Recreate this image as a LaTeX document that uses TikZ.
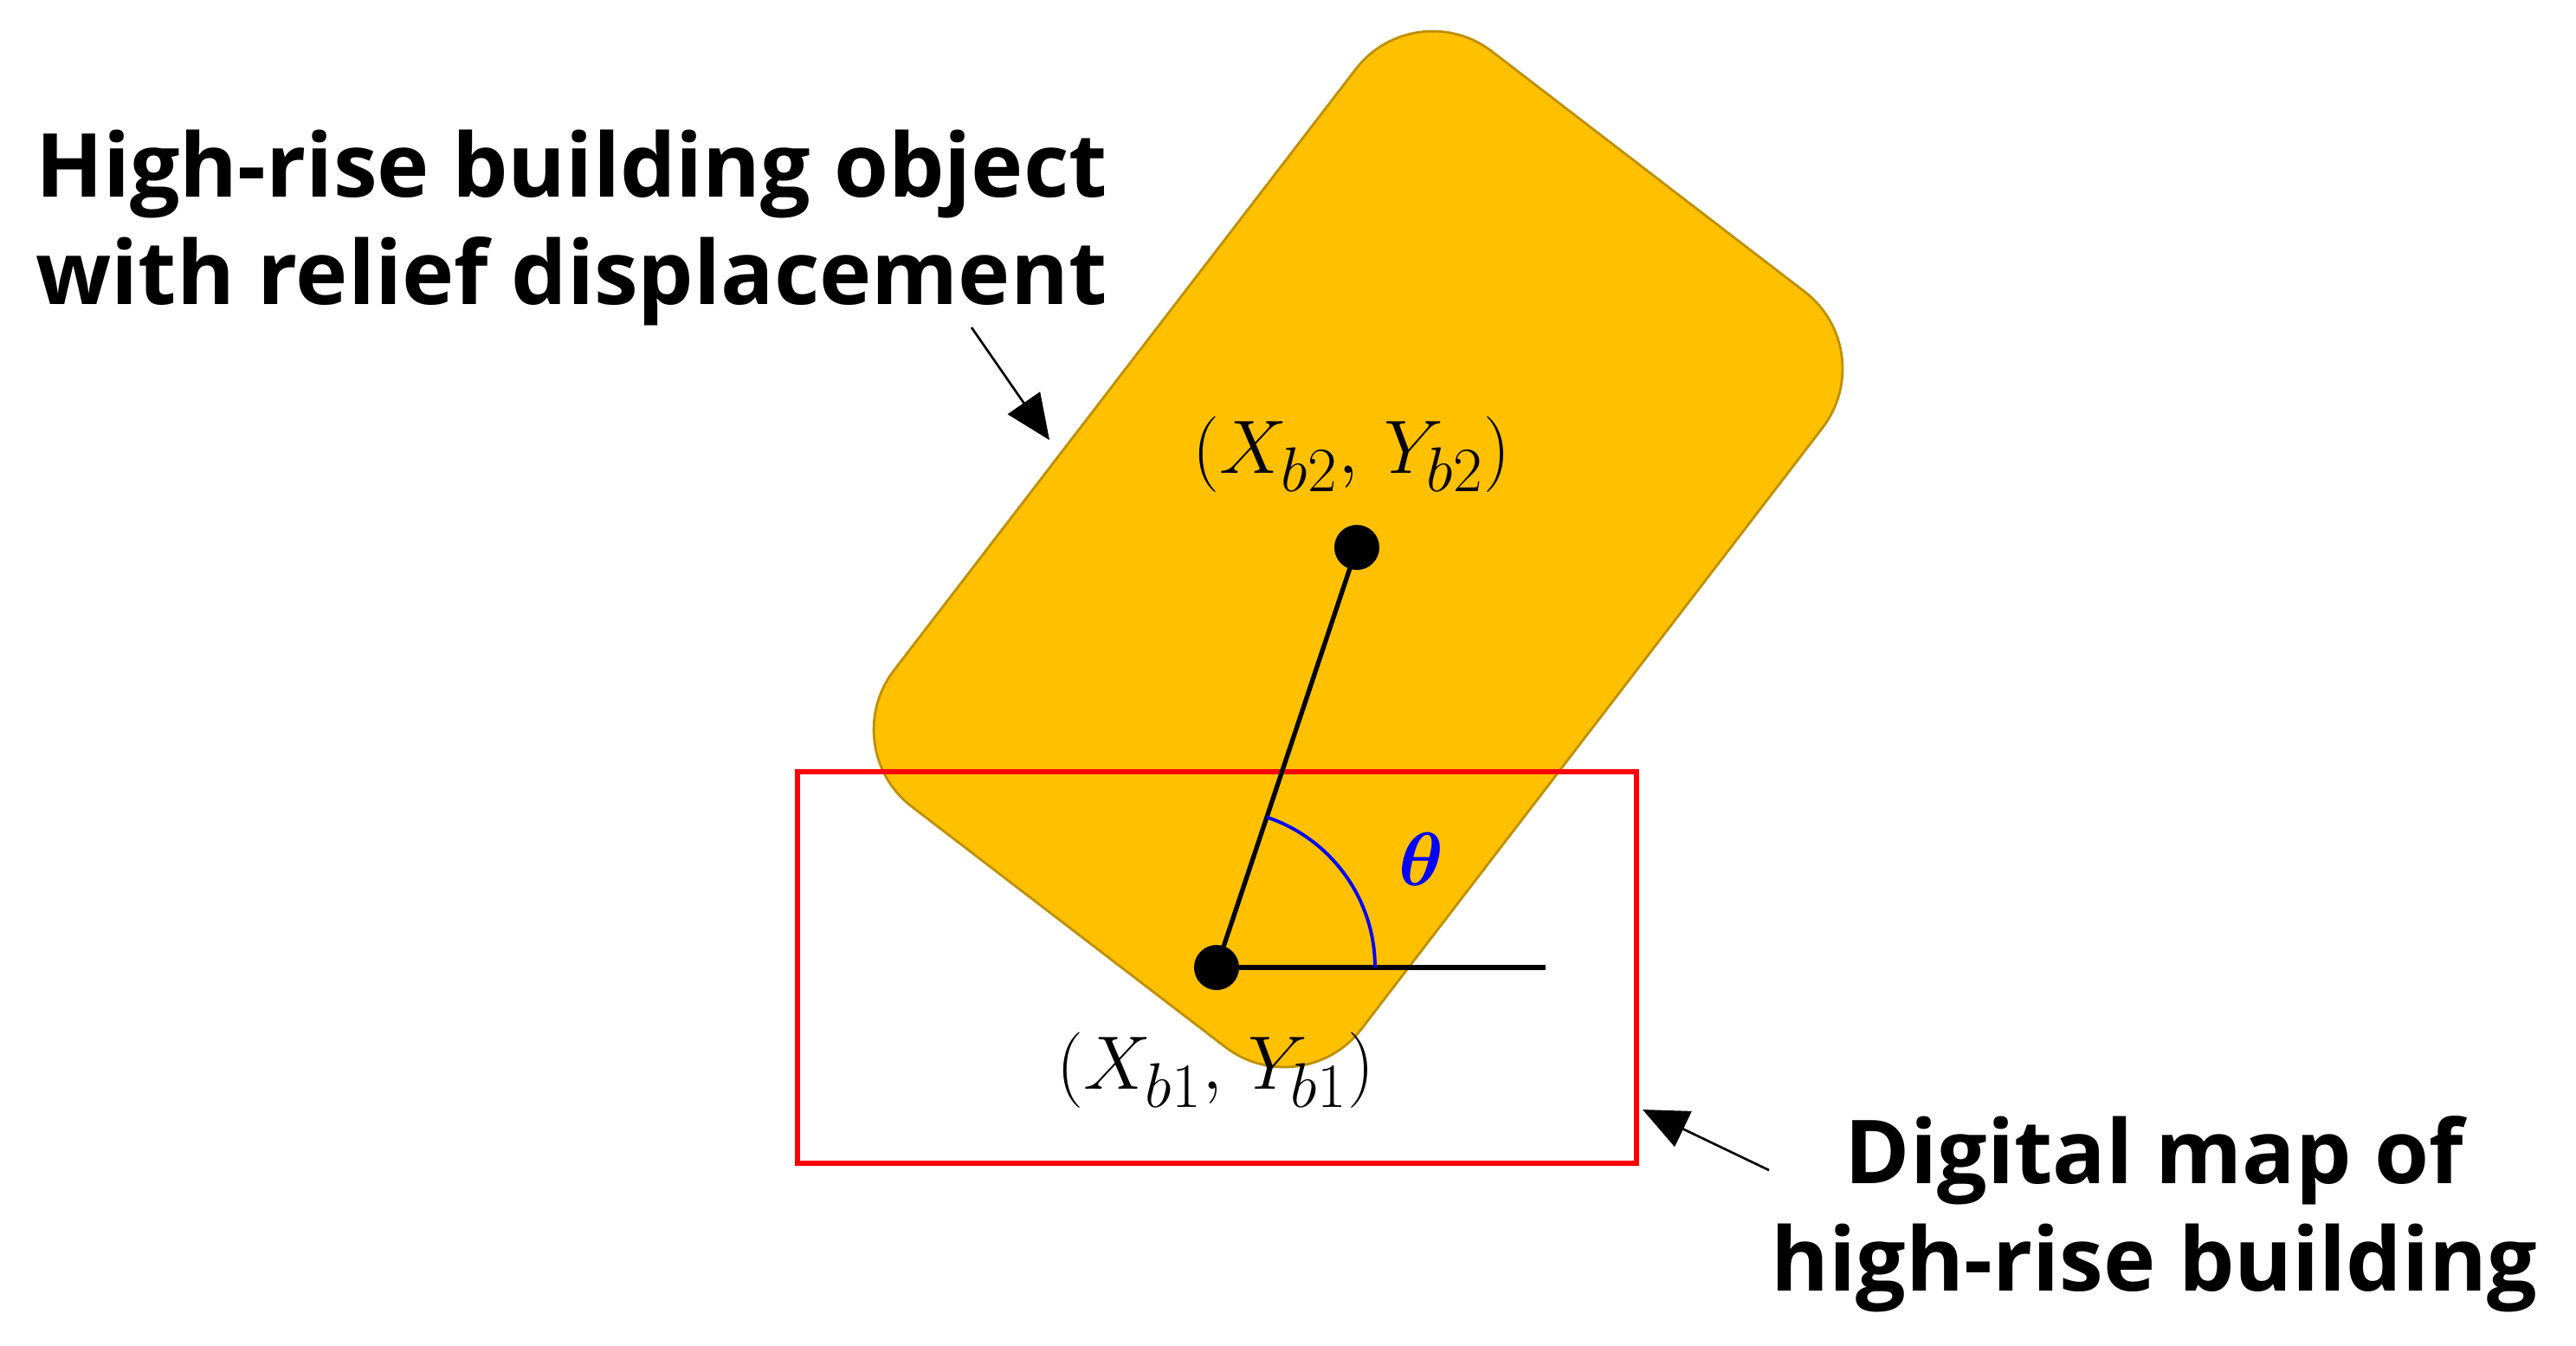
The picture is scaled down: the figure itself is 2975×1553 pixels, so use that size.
\documentclass[tikz,border=0pt]{standalone}
\usepackage{amsmath,bm}
\usepackage{fontspec}
\setmainfont{Open Sans}
\usetikzlibrary{arrows.meta,positioning}
\definecolor{bldgold}{HTML}{FFC000}
\definecolor{bldedge}{HTML}{BF9000}

\begin{document}
\begin{tikzpicture}[
        x=0.01cm, y=-0.01cm,
        building/.style={fill=bldgold, draw=bldedge, line width=0.8pt, rounded corners=1.12cm},
        mapbox/.style={draw=red, line width=1.7pt},
        seg/.style={line width=1.5pt},
        ptdot/.style={circle, fill=black, inner sep=0pt, minimum size=0.52cm},
        notetext/.style={font=\fontsize{29}{35.3}\selectfont\bfseries, align=center},
        ptlabel/.style={font=\fontsize{28}{30}\selectfont},
        pointer/.style={-{Triangle[length=0.52cm, width=0.45cm]}, line width=0.75pt},
    ]
        \useasboundingbox (0,0) rectangle (2975,1553);

        % Building with relief displacement
        \draw[building] (1299,427) -- (1634,-9) -- (2173,405) -- (1504,1277) -- (964,863) -- cycle;

        % Digital map footprint
        \draw[mapbox] (921,891) rectangle (1890,1343);

        % Points and angle
        \node[ptdot] (p1) at (1405,1117) {};
        \node[ptdot] (p2) at (1567,632) {};
        \coordinate (h1) at (1785,1117);
        \draw[seg] (p1.center) -- (p2.center);
        \draw[seg] (p1.center) -- (h1);
        \draw[blue, line width=1.1pt] (p1.center) ++(183,0) arc (0:-71.5:183);
        \node[text=blue, font=\fontsize{27}{30}\selectfont] (theta) at (1641,992) {$\bm{\theta}$};

        \node[ptlabel] (lb2) at (1561,525) {$(X_{b2},\,Y_{b2})$};
        \node[ptlabel] (lb1) at (1404,1236) {$(X_{b1},\,Y_{b1})$};

        % Captions
        \node[notetext] (objtext) at (660,263) {High-rise building object\\with relief displacement};
        \node[notetext] (maptext) at (2488,1402) {Digital map of\\high-rise building};

        \coordinate (a1s) at (1122,378);
        \coordinate (a1e) at (1212,508);
        \coordinate (a2s) at (2043,1351);
        \coordinate (a2e) at (1897,1281);
        \draw[pointer] (a1s) -- (a1e);
        \draw[pointer] (a2s) -- (a2e);
    \end{tikzpicture}
\end{document}
